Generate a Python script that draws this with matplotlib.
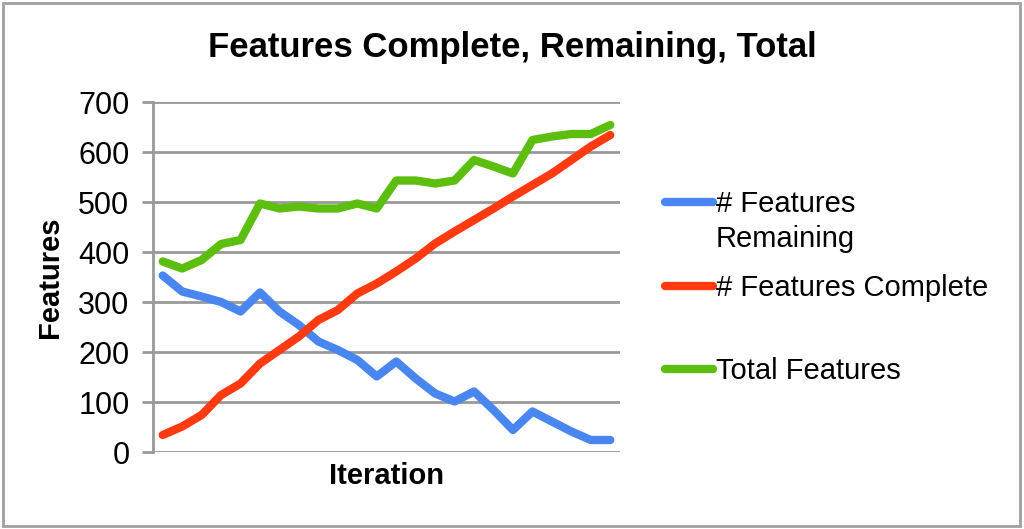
import matplotlib
matplotlib.use("Agg")
import matplotlib.pyplot as plt
from matplotlib.lines import Line2D
from matplotlib.patches import Rectangle

plt.rcParams['font.family'] = ['Liberation Sans', 'DejaVu Sans']

iterations = list(range(1, 25))
remaining = [353, 321, 311, 300, 281, 319, 281, 254, 221, 204, 184, 151,
             181, 147, 117, 101, 121, 84, 44, 81, 61, 41, 24, 24]
complete = [34, 51, 74, 114, 137, 177, 204, 231, 264, 284, 317, 337,
            361, 387, 417, 441, 464, 487, 511, 534, 557, 584, 611, 634]
total = [381, 367, 384, 416, 424, 497, 487, 491, 487, 487, 497, 487,
         543, 543, 537, 543, 584, 571, 557, 624, 631, 636, 636, 654]
series_names = ["# Features\nRemaining", "# Features Complete", "Total Features"]
colors = ["#4A86F0", "#FF3A10", "#5CBF10"]
yticks = [0, 100, 200, 300, 400, 500, 600, 700]

W, H = 1024, 529
fig = plt.figure(figsize=(W / 100, H / 100), dpi=100)
fig.patch.set_facecolor("white")

# outer border
fig.add_artist(Rectangle((3 / W, 3 / H), 1017 / W, 523 / H, transform=fig.transFigure,
                         fill=False, edgecolor="#a0a0a0", linewidth=2))

ax = fig.add_axes([153 / W, 1 - 452 / H, (620 - 153) / W, (452 - 102) / H])
n = len(iterations)
xs = [i + 0.5 for i in range(n)]
lw = 6.0
for vals, c in zip([remaining, complete, total], colors):
    ax.plot(xs, vals, color=c, linewidth=lw, solid_capstyle="round",
            solid_joinstyle="round", zorder=3)

ax.set_xlim(0, n)
ax.set_ylim(0, 700)
ax.set_yticks(yticks)
ax.set_yticklabels([str(v) for v in yticks], fontsize=22)
ax.set_xticks([])
ax.grid(axis="y", color="#999999", linewidth=2, zorder=0)
ax.tick_params(axis="y", length=8, width=2, color="#999999", pad=9)
for s in ["top", "right"]:
    ax.spines[s].set_visible(False)
ax.spines["bottom"].set_visible(False)
ax.spines["left"].set_color("#999999")
ax.spines["left"].set_linewidth(2)

ax.set_xlabel("Iteration", fontsize=21, fontweight="bold", labelpad=7)
ax.set_ylabel("Features", fontsize=21, fontweight="bold", labelpad=10)

fig.text(512 / W, 1 - 48 / H, "Features Complete, Remaining, Total",
         ha="center", va="center", fontsize=25, fontweight="bold")

# legend
leg_y = [202, 286, 369]
for name, c, y in zip(series_names, colors, leg_y):
    fig.add_artist(Line2D([665 / W, 713 / W], [1 - y / H, 1 - y / H],
                          transform=fig.transFigure, color=c, linewidth=lw,
                          solid_capstyle="round"))
    fig.text(716 / W, 1 - (y - 12) / H, name, ha="left", va="top",
             fontsize=21, linespacing=1.3)

fig.savefig("out.png", dpi=100)
